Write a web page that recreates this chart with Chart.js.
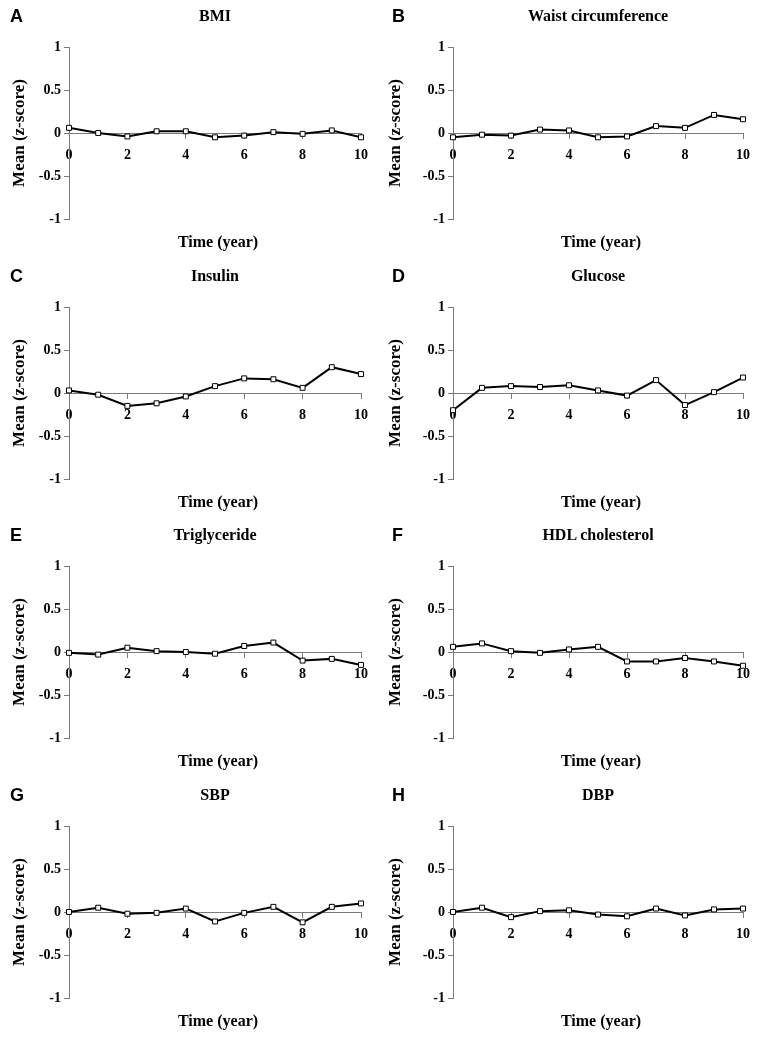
<!DOCTYPE html>
<html>
<head>
    <script src="https://cdn.jsdelivr.net/npm/chart.js@4.4.1/dist/chart.umd.min.js"></script>
    <style>
        body {
            margin: 0;
            background: #fff;
        }

        .page {
            position: relative;
            width: 763px;
            height: 1041px;
        }

        .panel {
            position: absolute;
            height: 260px;
        }

        .panel canvas {
            position: absolute;
            left: 0;
            top: 0;
        }

        .letter {
            position: absolute;
            top: 6px;
            font-family: 'Liberation Sans', Arial, sans-serif;
            font-weight: bold;
            font-size: 18px;
            line-height: 20px;
            color: #000;
        }

        .title, .xtitle {
            position: absolute;
            font-family: 'Liberation Serif', 'Times New Roman', serif;
            font-weight: bold;
            font-size: 16px;
            line-height: 20px;
            color: #000;
            white-space: nowrap;
            transform: translateX(-50%);
        }

        .title { top: 6px; }
        .xtitle { top: 232px; }
    </style>
</head>
<body>
    <div class="page" id="page"></div>

    <script>
        const years = [0, 1, 2, 3, 4, 5, 6, 7, 8, 9, 10];
        const letters = ['A', 'B', 'C', 'D', 'E', 'F', 'G', 'H'];
        const titles = ['BMI', 'Waist circumference', 'Insulin', 'Glucose',
                        'Triglyceride', 'HDL cholesterol', 'SBP', 'DBP'];
        const yTicks = [1, 0.5, 0, -0.5, -1];
        const yTickLabels = ['1', '0.5', '0', '-0.5', '-1'];
        const xTicks = [0, 2, 4, 6, 8, 10];

        const bmi      = [0.06, 0.00, -0.04, 0.02, 0.02, -0.05, -0.03, 0.01, -0.01, 0.03, -0.05];
        const waist    = [-0.05, -0.02, -0.03, 0.04, 0.03, -0.05, -0.04, 0.08, 0.06, 0.21, 0.16];
        const insulin  = [0.03, -0.02, -0.15, -0.12, -0.04, 0.08, 0.17, 0.16, 0.06, 0.30, 0.22];
        const glucose  = [-0.20, 0.06, 0.08, 0.07, 0.09, 0.03, -0.03, 0.15, -0.14, 0.01, 0.18];
        const trig     = [-0.01, -0.03, 0.05, 0.01, 0.00, -0.02, 0.07, 0.11, -0.10, -0.08, -0.15];
        const hdl      = [0.06, 0.10, 0.01, -0.01, 0.03, 0.06, -0.11, -0.11, -0.07, -0.11, -0.16];
        const sbp      = [0.00, 0.05, -0.02, -0.01, 0.04, -0.11, -0.01, 0.06, -0.12, 0.06, 0.10];
        const dbp      = [0.00, 0.05, -0.06, 0.01, 0.02, -0.03, -0.05, 0.04, -0.04, 0.03, 0.04];

        const series = [bmi, waist, insulin, glucose, trig, hdl, sbp, dbp];
        const rowTops = [0, 260, 519, 779];

        const serif = "'Liberation Serif', 'Times New Roman', serif";
        const axisGray = '#7a7a7a';

        const page = document.getElementById('page');

        series.forEach((values, i) => {
            const col = i % 2;
            const row = Math.floor(i / 2);
            const width = col === 0 ? 380 : 383;
            const axisWidth = col === 0 ? 69 : 73;

            const panel = document.createElement('div');
            panel.className = 'panel';
            panel.style.left = (col * 380) + 'px';
            panel.style.top = rowTops[row] + 'px';
            panel.style.width = width + 'px';
            page.appendChild(panel);

            const canvas = document.createElement('canvas');
            canvas.width = width;
            canvas.height = 260;
            panel.appendChild(canvas);

            const chart = new Chart(canvas.getContext('2d'), {
                type: 'line',
                data: {
                    datasets: [{
                        data: years.map((x, k) => ({ x: x, y: values[k] })),
                        borderColor: '#000',
                        borderWidth: 2,
                        tension: 0,
                        clip: false,
                        pointStyle: 'rect',
                        pointRadius: 3.5,
                        pointBorderWidth: 1,
                        pointBorderColor: '#000',
                        pointBackgroundColor: '#fff'
                    }]
                },
                options: {
                    responsive: false,
                    animation: false,
                    devicePixelRatio: 1,
                    layout: {
                        padding: { top: 47, bottom: 41, left: 0, right: width - (col === 0 ? 361 : 363) }
                    },
                    plugins: {
                        legend: { display: false },
                        tooltip: { enabled: false }
                    },
                    scales: {
                        x: {
                            type: 'linear',
                            position: { y: 0 },
                            min: 0,
                            max: 10,
                            afterBuildTicks: (scale) => {
                                scale.ticks = xTicks.map(v => ({ value: v }));
                            },
                            ticks: {
                                color: '#000',
                                padding: 9,
                                maxRotation: 0,
                                font: { family: serif, size: 14, weight: 'bold' }
                            },
                            grid: {
                                drawOnChartArea: false,
                                tickLength: 5,
                                color: axisGray
                            },
                            border: { color: axisGray, width: 1 }
                        },
                        y: {
                            min: -1,
                            max: 1,
                            afterBuildTicks: (scale) => {
                                scale.ticks = yTicks.map(v => ({ value: v }));
                            },
                            afterFit: (scale) => {
                                scale.width = axisWidth;
                            },
                            ticks: {
                                color: '#000',
                                padding: 3,
                                font: { family: serif, size: 14, weight: 'bold' },
                                callback: (value) => yTickLabels[yTicks.indexOf(value)]
                            },
                            grid: {
                                drawOnChartArea: false,
                                tickLength: 5,
                                color: axisGray
                            },
                            border: { color: axisGray, width: 1 },
                            title: {
                                display: true,
                                text: 'Mean (z-score)',
                                color: '#000',
                                padding: { top: col === 0 ? 9 : 5, bottom: 0 },
                                font: { family: serif, size: 17, weight: 'bold' }
                            }
                        }
                    }
                }
            });

            const area = chart.chartArea;
            const mid = (area.left + area.right) / 2;

            const letter = document.createElement('div');
            letter.className = 'letter';
            letter.style.left = (col === 0 ? 10 : 12) + 'px';
            letter.textContent = letters[i];
            panel.appendChild(letter);

            const title = document.createElement('div');
            title.className = 'title';
            title.style.left = mid + 'px';
            title.textContent = titles[i];
            panel.appendChild(title);

            const xtitle = document.createElement('div');
            xtitle.className = 'xtitle';
            xtitle.style.left = (mid + 3) + 'px';
            xtitle.textContent = 'Time (year)';
            panel.appendChild(xtitle);
        });
    </script>
</body>
</html>
